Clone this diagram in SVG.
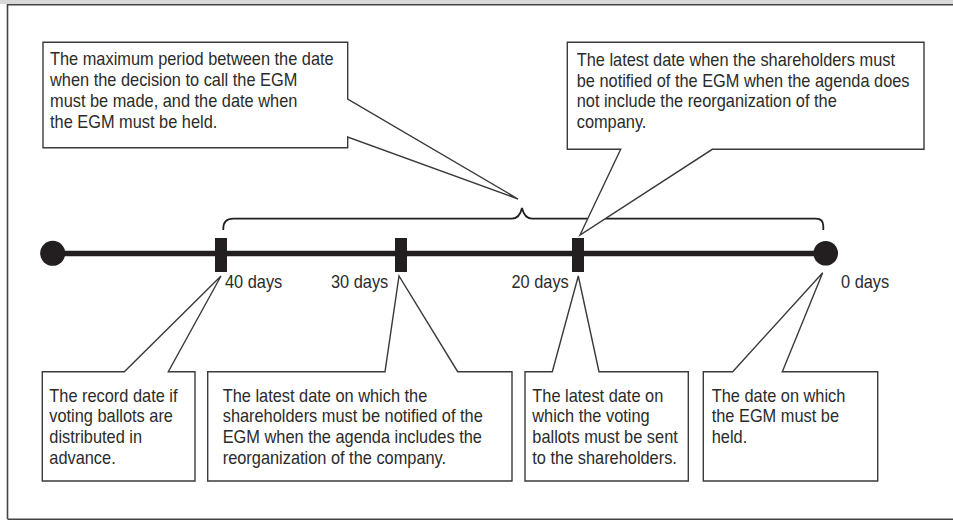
<svg xmlns="http://www.w3.org/2000/svg" width="953" height="520" viewBox="0 0 953 520">
<defs>
<style>
.t{font-family:"Liberation Sans",Arial,sans-serif;font-size:17.6px;fill:#2b2b2b}
.co{fill:#fff;stroke:#3a3a3a;stroke-width:1.4;stroke-linejoin:miter}
.frame{fill:none;stroke:#444;stroke-width:1.6}
.mk{fill:#231f20}
</style>
</defs>
<rect x="0" y="0" width="953" height="520" fill="#fff"/>
<rect x="0" y="0" width="953" height="4" fill="#d8d8d8"/>
<path class="frame" d="M7.5,519 V4.8 H953 M7.5,519.2 H953"/>

<g id="connectors">
<line x1="53" y1="253.5" x2="825" y2="253.5" stroke="#231f20" stroke-width="5.5"/>
<path id="brace" d="M223.3,230 V228.5 Q223.3,218.6 233.3,218.6 H512 Q519.5,218.6 522,208 Q524.5,218.6 532,218.6 H816 Q823.3,218.6 823.3,226 V230" fill="none" stroke="#231f20" stroke-width="1.8"/>
</g>

<g id="start"><circle class="mk" cx="52.7" cy="253.3" r="12.5"/></g>
<g id="d40"><rect class="mk" x="215" y="238" width="12" height="34"/><text class="t" transform="translate(225,288) scale(0.93,1)">40 days</text></g>
<g id="d30"><rect class="mk" x="395" y="238" width="12" height="34"/><text class="t" transform="translate(331,288) scale(0.93,1)">30 days</text></g>
<g id="d20"><rect class="mk" x="572" y="238" width="12" height="34"/><text class="t" transform="translate(511.5,288) scale(0.93,1)">20 days</text></g>
<g id="d0"><circle class="mk" cx="825.7" cy="253.3" r="12.3"/><text class="t" transform="translate(841,288) scale(0.93,1)">0 days</text></g>

<g id="callout-period">
<path class="co" d="M43,42.3 H347.7 V99 L518,199 L347.7,137 V147.7 H43 Z"/>
<g transform="translate(50,0) scale(0.93,1)">
<text class="t" y="65.5">The maximum period between the date</text>
<text class="t" y="86.2">when the decision to call the EGM</text>
<text class="t" y="106.9">must be made, and the date when</text>
<text class="t" y="127.6">the EGM must be held.</text>
</g>
</g>

<g id="callout-notify20">
<path class="co" d="M567.3,42.3 H924 V149.3 H712.3 L580,235 L620.7,149.3 H567.3 Z"/>
<g transform="translate(576.7,0) scale(0.93,1)">
<text class="t" y="66">The latest date when the shareholders must</text>
<text class="t" y="86.7">be notified of the EGM when the agenda does</text>
<text class="t" y="107.4">not include the reorganization of the</text>
<text class="t" y="128.1">company.</text>
</g>
</g>

<g id="callout-record">
<path class="co" d="M42.3,371.7 H124.3 L221,276 L168.3,371.7 H195 V481 H42.3 Z"/>
<g transform="translate(49.3,0) scale(0.93,1)">
<text class="t" y="401.7">The record date if</text>
<text class="t" y="422.5">voting ballots are</text>
<text class="t" y="443.3">distributed in</text>
<text class="t" y="464.1">advance.</text>
</g>
</g>

<g id="callout-notify30">
<path class="co" d="M207.7,371.7 H385 L399,276 L457.7,371.7 H512 V481 H207.7 Z"/>
<g transform="translate(222.7,0) scale(0.93,1)">
<text class="t" y="401.7">The latest date on which the</text>
<text class="t" y="422.5">shareholders must be notified of the</text>
<text class="t" y="443.3">EGM when the agenda includes the</text>
<text class="t" y="464.1">reorganization of the company.</text>
</g>
</g>

<g id="callout-ballots">
<path class="co" d="M525,371.7 H552.3 L578.3,276 L599,371.7 H688.3 V481 H525 Z"/>
<g transform="translate(532.3,0) scale(0.93,1)">
<text class="t" y="401.7">The latest date on</text>
<text class="t" y="422.5">which the voting</text>
<text class="t" y="443.3">ballots must be sent</text>
<text class="t" y="464.1">to the shareholders.</text>
</g>
</g>

<g id="callout-egm">
<path class="co" d="M703.3,371.7 H732.7 L822.7,272.7 L782.3,371.7 H877.7 V481 H703.3 Z"/>
<g transform="translate(711.7,0) scale(0.93,1)">
<text class="t" y="401.7">The date on which</text>
<text class="t" y="422.5">the EGM must be</text>
<text class="t" y="443.3">held.</text>
</g>
</g>
</svg>
